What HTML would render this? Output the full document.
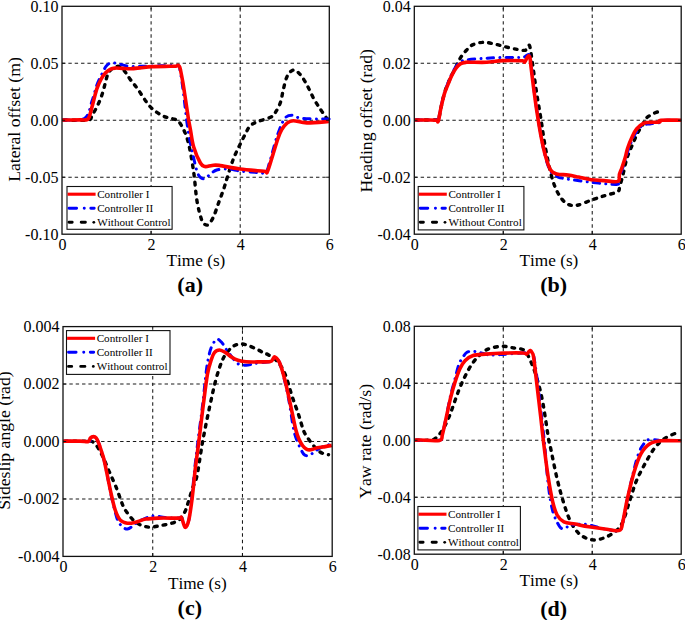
<!DOCTYPE html><html><head><meta charset="utf-8"><style>html,body{margin:0;padding:0;background:#fff;}svg{display:block;font-kerning:none;}text{font-kerning:none;}</style></head><body>
<svg width="685" height="620" viewBox="0 0 685 620">
<rect width="685" height="620" fill="#fff"/>
<g stroke="#1a1a1a" stroke-width="1.05" fill="none"><line x1="151.10" y1="234.20" x2="151.10" y2="6.30" stroke-dasharray="3.45 3.1"/><line x1="240.20" y1="234.20" x2="240.20" y2="6.30" stroke-dasharray="3.45 3.1"/><line x1="62.00" y1="63.27" x2="329.30" y2="63.27" stroke-dasharray="3.4 2.95"/><line x1="62.00" y1="120.25" x2="329.30" y2="120.25" stroke-dasharray="3.4 2.95"/><line x1="62.00" y1="177.22" x2="329.30" y2="177.22" stroke-dasharray="3.4 2.95"/></g>
<path d="M63.80,120.00 C67.83,120.00 83.28,120.78 88.00,120.00 C92.72,119.22 90.42,117.90 92.10,115.30 C93.78,112.70 96.38,108.03 98.10,104.40 C99.82,100.77 101.18,97.13 102.40,93.50 C103.62,89.87 104.50,85.82 105.40,82.60 C106.30,79.38 106.80,76.42 107.80,74.20 C108.80,71.98 109.98,70.58 111.40,69.30 C112.82,68.02 114.68,66.85 116.30,66.50 C117.92,66.15 119.50,66.12 121.10,67.20 C122.70,68.28 124.28,70.83 125.90,73.00 C127.52,75.17 128.83,77.53 130.80,80.20 C132.77,82.87 134.52,84.63 137.70,89.00 C140.88,93.37 145.82,101.97 149.90,106.40 C153.98,110.83 158.47,113.55 162.20,115.60 C165.93,117.65 169.45,117.60 172.30,118.70 C175.15,119.80 176.77,118.70 179.30,122.20 C181.83,125.70 185.15,131.73 187.50,139.70 C189.85,147.67 191.83,159.87 193.40,170.00 C194.97,180.13 195.55,192.25 196.90,200.50 C198.25,208.75 200.23,215.55 201.50,219.50 C202.77,223.45 203.33,223.37 204.50,224.20 C205.67,225.03 207.00,225.73 208.50,224.50 C210.00,223.27 211.80,220.45 213.50,216.80 C215.20,213.15 216.97,207.33 218.70,202.60 C220.43,197.87 222.50,192.50 223.90,188.40 C225.30,184.30 225.82,182.08 227.10,178.00 C228.38,173.92 230.18,167.95 231.60,163.90 C233.02,159.85 233.40,158.52 235.60,153.70 C237.80,148.88 242.40,139.60 244.80,135.00 C247.20,130.40 247.85,128.33 250.00,126.10 C252.15,123.87 254.28,123.07 257.70,121.60 C261.12,120.13 267.53,118.85 270.50,117.30 C273.47,115.75 273.83,114.80 275.50,112.30 C277.17,109.80 279.17,106.23 280.50,102.30 C281.83,98.37 282.35,93.12 283.50,88.70 C284.65,84.28 285.67,78.92 287.40,75.80 C289.13,72.68 291.63,70.05 293.90,70.00 C296.17,69.95 298.73,72.83 301.00,75.50 C303.27,78.17 305.35,82.08 307.50,86.00 C309.65,89.92 311.75,95.13 313.90,99.00 C316.05,102.87 318.33,106.07 320.40,109.20 C322.47,112.33 325.10,116.05 326.30,117.80 C327.50,119.55 327.38,119.38 327.60,119.70" fill="none" stroke="#000" stroke-width="3.40" stroke-dasharray="2.7 6.1" stroke-linecap="round" stroke-linejoin="round"/>
<path d="M63.80,120.00 C67.30,119.72 80.08,121.50 84.80,118.30 C89.52,115.10 90.08,106.35 92.10,100.80 C94.12,95.25 95.28,89.43 96.90,85.00 C98.52,80.57 100.28,77.32 101.80,74.20 C103.32,71.08 104.60,68.15 106.00,66.30 C107.40,64.45 108.68,63.63 110.20,63.10 C111.72,62.57 113.28,62.87 115.10,63.10 C116.92,63.33 118.88,63.97 121.10,64.50 C123.32,65.03 125.25,66.00 128.40,66.30 C131.55,66.60 136.07,66.35 140.00,66.30 C143.93,66.25 147.00,66.12 152.00,66.00 C157.00,65.88 166.00,65.68 170.00,65.60 C174.00,65.52 174.67,65.50 176.00,65.50 C177.33,65.50 177.42,65.27 178.00,65.60 C178.58,65.93 178.83,64.77 179.50,67.50 C180.17,70.23 181.20,76.58 182.00,82.00 C182.80,87.42 183.30,92.00 184.30,100.00 C185.30,108.00 186.55,120.83 188.00,130.00 C189.45,139.17 191.33,147.67 193.00,155.00 C194.67,162.33 196.18,170.03 198.00,174.00 C199.82,177.97 201.90,178.72 203.90,178.80 C205.90,178.88 207.87,175.97 210.00,174.50 C212.13,173.03 213.63,170.92 216.70,170.00 C219.77,169.08 224.52,168.83 228.40,169.00 C232.28,169.17 235.57,170.45 240.00,171.00 C244.43,171.55 250.75,172.05 255.00,172.30 C259.25,172.55 263.00,174.38 265.50,172.50 C268.00,170.62 268.00,167.25 270.00,161.00 C272.00,154.75 275.03,142.10 277.50,135.00 C279.97,127.90 282.28,121.70 284.80,118.40 C287.32,115.10 289.80,115.20 292.60,115.20 C295.40,115.20 295.80,117.77 301.60,118.40 C307.40,119.03 323.05,118.90 327.40,119.00 C331.75,119.10 327.65,119.00 327.70,119.00" fill="none" stroke="#00f" stroke-width="3.00" stroke-dasharray="6.4 6.2 0.01 6.2" stroke-linecap="round" stroke-linejoin="round"/>
<path d="M62.00,120.00 C65.00,119.98 75.78,119.98 80.00,119.90 C84.22,119.82 85.68,120.27 87.30,119.50 C88.92,118.73 88.70,118.22 89.70,115.30 C90.70,112.38 92.10,106.43 93.30,102.00 C94.50,97.57 95.58,92.53 96.90,88.70 C98.22,84.87 99.78,81.62 101.20,79.00 C102.62,76.38 103.90,74.62 105.40,73.00 C106.90,71.38 108.58,70.12 110.20,69.30 C111.82,68.48 113.08,68.25 115.10,68.10 C117.12,67.95 119.68,68.30 122.30,68.40 C124.92,68.50 127.85,68.78 130.80,68.70 C133.75,68.62 136.47,68.25 140.00,67.90 C143.53,67.55 147.00,66.87 152.00,66.60 C157.00,66.33 166.00,66.37 170.00,66.30 C174.00,66.23 174.67,66.38 176.00,66.20 C177.33,66.02 177.40,65.10 178.00,65.20 C178.60,65.30 179.17,65.92 179.60,66.80 C180.03,67.68 180.05,67.87 180.60,70.50 C181.15,73.13 182.17,78.35 182.90,82.60 C183.63,86.85 184.12,90.20 185.00,96.00 C185.88,101.80 187.30,111.82 188.20,117.40 C189.10,122.98 189.50,124.62 190.40,129.50 C191.30,134.38 191.93,141.12 193.60,146.70 C195.27,152.28 198.50,159.68 200.40,163.00 C202.30,166.32 203.07,166.18 205.00,166.60 C206.93,167.02 209.67,165.70 212.00,165.50 C214.33,165.30 214.33,164.82 219.00,165.40 C223.67,165.98 232.50,168.02 240.00,169.00 C247.50,169.98 259.45,170.83 264.00,171.30 C268.55,171.77 265.87,174.42 267.30,171.80 C268.73,169.18 270.85,161.10 272.60,155.60 C274.35,150.10 276.28,143.12 277.80,138.80 C279.32,134.48 280.20,132.28 281.70,129.70 C283.20,127.12 284.87,124.80 286.80,123.30 C288.73,121.80 289.97,120.77 293.30,120.70 C296.63,120.63 300.87,122.77 306.80,122.90 C312.73,123.03 325.22,121.73 328.90,121.50" fill="none" stroke="#f00" stroke-width="3.60" stroke-linecap="butt" stroke-linejoin="round"/>
<path d="M151.10,234.20v-3.20M151.10,6.30v3.20M240.20,234.20v-3.20M240.20,6.30v3.20M62.00,63.27h3.20M329.30,63.27h-3.20M62.00,120.25h3.20M329.30,120.25h-3.20M62.00,177.22h3.20M329.30,177.22h-3.20" stroke="#111" stroke-width="1" fill="none"/>
<rect x="62.00" y="6.30" width="267.30" height="227.90" fill="none" stroke="#111" stroke-width="1.3"/>
<rect x="67.00" y="186.50" width="105.10" height="42.80" fill="#fff" stroke="#111" stroke-width="1.1"/>
<line x1="67.60" y1="194.20" x2="95.60" y2="194.20" stroke="#f00" stroke-width="3.1"/>
<path d="M69.00,208.20H76.60 M84.20,208.20h0.1 M90.80,208.20H94.20" stroke="#00f" stroke-width="2.9" stroke-linecap="round"/>
<path d="M69.00,222.30H72.20 M81.20,222.30H85.40" stroke="#000" stroke-width="2.9" stroke-linecap="round"/>
<circle cx="93.80" cy="222.30" r="1.4" fill="#000"/>
<g font-family="'Liberation Serif', serif" font-size="11.15" fill="#000">
<text x="97.20" y="197.50">Controller I</text>
<text x="97.20" y="211.50">Controller II</text>
<text x="97.20" y="225.50">Without Control</text>
</g>
<g font-family="'Liberation Serif', serif" font-size="16.00" fill="#000">
<text transform="translate(58.40,11.60) scale(1,1.055)" text-anchor="end">0.10</text>
<text transform="translate(58.40,68.57) scale(1,1.055)" text-anchor="end">0.05</text>
<text transform="translate(58.40,125.55) scale(1,1.055)" text-anchor="end">0.00</text>
<text transform="translate(58.40,182.53) scale(1,1.055)" text-anchor="end">-0.05</text>
<text transform="translate(58.40,239.50) scale(1,1.055)" text-anchor="end">-0.10</text>
<text transform="translate(62.50,250.00) scale(1,1.055)" text-anchor="middle">0</text>
<text transform="translate(151.60,250.00) scale(1,1.055)" text-anchor="middle">2</text>
<text transform="translate(240.70,250.00) scale(1,1.055)" text-anchor="middle">4</text>
<text transform="translate(329.80,250.00) scale(1,1.055)" text-anchor="middle">6</text>
</g>
<text transform="translate(195.90,266.00) scale(0.985,1)" font-family="'Liberation Serif', serif" font-size="17.50" text-anchor="middle">Time (s)</text>
<text transform="translate(14.00,119.50) rotate(-90)" font-family="'Liberation Serif', serif" font-size="17.70" text-anchor="middle" dominant-baseline="central">Lateral offset (m)</text>
<text x="190.20" y="292.40" font-family="'Liberation Serif', serif" font-size="22.00" font-weight="bold" text-anchor="middle">(a)</text>
<g stroke="#1a1a1a" stroke-width="1.05" fill="none"><line x1="503.27" y1="234.20" x2="503.27" y2="6.30" stroke-dasharray="3.45 3.1"/><line x1="592.23" y1="234.20" x2="592.23" y2="6.30" stroke-dasharray="3.45 3.1"/><line x1="414.30" y1="63.27" x2="681.20" y2="63.27" stroke-dasharray="3.4 2.95"/><line x1="414.30" y1="120.25" x2="681.20" y2="120.25" stroke-dasharray="3.4 2.95"/><line x1="414.30" y1="177.22" x2="681.20" y2="177.22" stroke-dasharray="3.4 2.95"/></g>
<path d="M416.10,120.00 C419.42,120.00 432.25,120.17 436.00,120.00 C439.75,119.83 437.77,121.08 438.60,119.00 C439.43,116.92 440.02,111.83 441.00,107.50 C441.98,103.17 443.30,97.08 444.50,93.00 C445.70,88.92 446.98,86.00 448.20,83.00 C449.42,80.00 450.58,77.50 451.80,75.00 C453.02,72.50 454.47,70.12 455.50,68.00 C456.53,65.88 456.92,64.38 458.00,62.30 C459.08,60.22 460.55,57.55 462.00,55.50 C463.45,53.45 464.95,51.77 466.70,50.00 C468.45,48.23 469.78,46.18 472.50,44.90 C475.22,43.62 479.33,42.45 483.00,42.30 C486.67,42.15 490.70,43.23 494.50,44.00 C498.30,44.77 502.03,46.00 505.80,46.90 C509.57,47.80 513.87,48.83 517.10,49.40 C520.33,49.97 523.38,50.70 525.20,50.30 C527.02,49.90 527.28,47.80 528.00,47.00 C528.72,46.20 529.00,44.47 529.50,45.50 C530.00,46.53 530.27,48.52 531.00,53.20 C531.73,57.88 532.93,66.77 533.90,73.60 C534.87,80.43 535.62,86.57 536.80,94.20 C537.98,101.83 539.60,110.67 541.00,119.40 C542.40,128.13 543.45,137.17 545.20,146.60 C546.95,156.03 549.40,168.30 551.50,176.00 C553.60,183.70 555.35,188.25 557.80,192.80 C560.25,197.35 563.07,201.20 566.20,203.30 C569.33,205.40 572.42,205.93 576.60,205.40 C580.78,204.87 586.75,201.68 591.30,200.10 C595.85,198.52 599.53,197.30 603.90,195.90 C608.27,194.50 614.87,193.23 617.50,191.70 C620.13,190.17 618.77,189.62 619.70,186.70 C620.63,183.78 621.97,178.73 623.10,174.20 C624.23,169.67 625.37,163.45 626.50,159.50 C627.63,155.55 628.68,153.50 629.90,150.50 C631.12,147.50 632.48,144.52 633.80,141.50 C635.12,138.48 636.38,135.05 637.80,132.40 C639.22,129.75 641.02,127.83 642.30,125.60 C643.58,123.37 644.03,120.80 645.50,119.00 C646.97,117.20 648.95,116.00 651.10,114.80 C653.25,113.60 656.68,111.90 658.40,111.80 C660.12,111.70 660.90,113.80 661.40,114.20" fill="none" stroke="#000" stroke-width="3.40" stroke-dasharray="2.7 6.1" stroke-linecap="round" stroke-linejoin="round"/>
<path d="M416.10,120.00 C419.42,120.00 432.25,120.17 436.00,120.00 C439.75,119.83 437.77,121.17 438.60,119.00 C439.43,116.83 440.02,111.42 441.00,107.00 C441.98,102.58 443.30,96.58 444.50,92.50 C445.70,88.42 446.98,85.58 448.20,82.50 C449.42,79.42 450.50,76.67 451.80,74.00 C453.10,71.33 454.58,68.50 456.00,66.50 C457.42,64.50 458.45,63.12 460.30,62.00 C462.15,60.88 462.73,60.43 467.10,59.80 C471.47,59.17 479.78,58.60 486.50,58.20 C493.22,57.80 501.92,57.50 507.40,57.40 C512.88,57.30 516.60,57.65 519.40,57.60 C522.20,57.55 522.60,57.58 524.20,57.10 C525.80,56.62 527.87,53.55 529.00,54.70 C530.13,55.85 530.33,59.45 531.00,64.00 C531.67,68.55 532.03,74.33 533.00,82.00 C533.97,89.67 535.47,101.00 536.80,110.00 C538.13,119.00 539.60,128.33 541.00,136.00 C542.40,143.67 543.63,150.17 545.20,156.00 C546.77,161.83 548.48,167.67 550.40,171.00 C552.32,174.33 554.77,174.82 556.70,176.00 C558.63,177.18 556.23,177.05 562.00,178.10 C567.77,179.15 582.22,181.25 591.30,182.30 C600.38,183.35 611.88,184.62 616.50,184.40 C621.12,184.18 618.25,182.90 619.00,181.00 C619.75,179.10 620.33,175.33 621.00,173.00 C621.67,170.67 622.17,169.58 623.00,167.00 C623.83,164.42 625.08,160.50 626.00,157.50 C626.92,154.50 627.33,152.25 628.50,149.00 C629.67,145.75 631.50,141.08 633.00,138.00 C634.50,134.92 635.83,132.67 637.50,130.50 C639.17,128.33 640.93,126.10 643.00,125.00 C645.07,123.90 647.13,124.30 649.90,123.90 C652.67,123.50 657.58,123.17 659.60,122.60 C661.62,122.03 658.67,120.85 662.00,120.50 C665.33,120.15 676.67,120.50 679.60,120.50" fill="none" stroke="#00f" stroke-width="3.00" stroke-dasharray="6.4 6.2 0.01 6.2" stroke-linecap="round" stroke-linejoin="round"/>
<path d="M414.30,120.00 C416.92,120.00 426.30,119.95 430.00,120.00 C433.70,120.05 435.12,120.12 436.50,120.30 C437.88,120.48 437.57,123.13 438.30,121.10 C439.03,119.07 439.87,112.68 440.90,108.10 C441.93,103.52 443.28,97.63 444.50,93.60 C445.72,89.57 446.98,86.93 448.20,83.90 C449.42,80.87 450.50,78.02 451.80,75.40 C453.10,72.78 454.58,70.12 456.00,68.20 C457.42,66.28 458.58,64.88 460.30,63.90 C462.02,62.92 464.63,62.58 466.30,62.30 C467.97,62.02 466.93,62.20 470.30,62.20 C473.67,62.20 481.12,62.57 486.50,62.30 C491.88,62.03 496.63,60.85 502.60,60.60 C508.57,60.35 518.62,60.57 522.30,60.80 C525.98,61.03 523.73,62.78 524.70,62.00 C525.67,61.22 527.22,56.77 528.10,56.10 C528.98,55.43 529.52,56.22 530.00,58.00 C530.48,59.78 530.52,62.75 531.00,66.80 C531.48,70.85 532.42,78.43 532.90,82.30 C533.38,86.17 533.25,85.22 533.90,90.00 C534.55,94.78 535.62,103.30 536.80,111.00 C537.98,118.70 539.60,128.87 541.00,136.20 C542.40,143.53 543.63,149.42 545.20,155.00 C546.77,160.58 548.48,166.55 550.40,169.70 C552.32,172.85 553.73,173.02 556.70,173.90 C559.67,174.78 564.53,174.47 568.20,175.00 C571.87,175.53 574.85,176.30 578.70,177.10 C582.55,177.90 587.10,179.22 591.30,179.80 C595.50,180.38 599.48,180.33 603.90,180.60 C608.32,180.87 615.20,182.50 617.80,181.40 C620.40,180.30 618.80,176.32 619.50,174.00 C620.20,171.68 621.03,170.28 622.00,167.50 C622.97,164.72 624.37,160.52 625.30,157.30 C626.23,154.08 626.47,151.58 627.60,148.20 C628.73,144.82 630.60,140.20 632.10,137.00 C633.60,133.80 634.72,131.27 636.60,129.00 C638.48,126.73 641.18,124.50 643.40,123.40 C645.62,122.30 647.20,122.63 649.90,122.40 C652.60,122.17 657.78,122.37 659.60,122.00 C661.42,121.63 657.20,120.50 660.80,120.20 C664.40,119.90 677.80,120.20 681.20,120.20" fill="none" stroke="#f00" stroke-width="3.60" stroke-linecap="butt" stroke-linejoin="round"/>
<path d="M503.27,234.20v-3.20M503.27,6.30v3.20M592.23,234.20v-3.20M592.23,6.30v3.20M414.30,63.27h3.20M681.20,63.27h-3.20M414.30,120.25h3.20M681.20,120.25h-3.20M414.30,177.22h3.20M681.20,177.22h-3.20" stroke="#111" stroke-width="1" fill="none"/>
<rect x="414.30" y="6.30" width="266.90" height="227.90" fill="none" stroke="#111" stroke-width="1.3"/>
<rect x="418.20" y="186.50" width="105.70" height="43.40" fill="#fff" stroke="#111" stroke-width="1.1"/>
<line x1="418.80" y1="194.20" x2="446.80" y2="194.20" stroke="#f00" stroke-width="3.1"/>
<path d="M420.20,208.20H427.80 M435.40,208.20h0.1 M442.00,208.20H445.40" stroke="#00f" stroke-width="2.9" stroke-linecap="round"/>
<path d="M420.20,222.30H423.40 M432.40,222.30H436.60" stroke="#000" stroke-width="2.9" stroke-linecap="round"/>
<circle cx="445.00" cy="222.30" r="1.4" fill="#000"/>
<g font-family="'Liberation Serif', serif" font-size="11.15" fill="#000">
<text x="448.40" y="197.50">Controller I</text>
<text x="448.40" y="211.50">Controller II</text>
<text x="448.40" y="225.50">Without Control</text>
</g>
<g font-family="'Liberation Serif', serif" font-size="16.00" fill="#000">
<text transform="translate(410.70,11.60) scale(1,1.055)" text-anchor="end">0.04</text>
<text transform="translate(410.70,68.57) scale(1,1.055)" text-anchor="end">0.02</text>
<text transform="translate(410.70,125.55) scale(1,1.055)" text-anchor="end">0.00</text>
<text transform="translate(410.70,182.53) scale(1,1.055)" text-anchor="end">-0.02</text>
<text transform="translate(410.70,239.50) scale(1,1.055)" text-anchor="end">-0.04</text>
<text transform="translate(414.80,250.00) scale(1,1.055)" text-anchor="middle">0</text>
<text transform="translate(503.77,250.00) scale(1,1.055)" text-anchor="middle">2</text>
<text transform="translate(592.73,250.00) scale(1,1.055)" text-anchor="middle">4</text>
<text transform="translate(681.70,250.00) scale(1,1.055)" text-anchor="middle">6</text>
</g>
<text transform="translate(548.90,266.30) scale(0.985,1)" font-family="'Liberation Serif', serif" font-size="17.50" text-anchor="middle">Time (s)</text>
<text transform="translate(365.50,120.70) rotate(-90)" font-family="'Liberation Serif', serif" font-size="17.70" text-anchor="middle" dominant-baseline="central">Heading offset (rad)</text>
<text x="553.60" y="292.20" font-family="'Liberation Serif', serif" font-size="22.00" font-weight="bold" text-anchor="middle">(b)</text>
<g stroke="#1a1a1a" stroke-width="1.05" fill="none"><line x1="152.73" y1="556.40" x2="152.73" y2="326.60" stroke-dasharray="3.45 3.1"/><line x1="242.47" y1="556.40" x2="242.47" y2="326.60" stroke-dasharray="3.45 3.1"/><line x1="63.00" y1="384.05" x2="332.20" y2="384.05" stroke-dasharray="3.4 2.95"/><line x1="63.00" y1="441.50" x2="332.20" y2="441.50" stroke-dasharray="3.4 2.95"/><line x1="63.00" y1="498.95" x2="332.20" y2="498.95" stroke-dasharray="3.4 2.95"/></g>
<path d="M64.80,441.20 C68.73,441.20 84.08,441.23 88.40,441.20 C92.72,441.17 89.47,440.45 90.70,441.00 C91.93,441.55 93.77,441.87 95.80,444.50 C97.83,447.13 100.70,452.37 102.90,456.80 C105.10,461.23 106.78,466.00 109.00,471.10 C111.22,476.20 113.88,481.67 116.20,487.40 C118.52,493.13 121.02,501.20 122.90,505.50 C124.78,509.80 125.75,510.75 127.50,513.20 C129.25,515.65 131.25,518.25 133.40,520.20 C135.55,522.15 137.68,523.73 140.40,524.90 C143.12,526.07 146.40,527.08 149.70,527.20 C153.00,527.32 156.50,526.27 160.20,525.60 C163.90,524.93 168.60,524.27 171.90,523.20 C175.20,522.13 177.85,521.07 180.00,519.20 C182.15,517.33 183.47,514.70 184.80,512.00 C186.13,509.30 186.67,507.10 188.00,503.00 C189.33,498.90 191.30,491.95 192.80,487.40 C194.30,482.85 195.37,483.30 197.00,475.70 C198.63,468.10 200.53,453.10 202.60,441.80 C204.67,430.50 207.13,418.45 209.40,407.90 C211.67,397.35 214.00,386.53 216.20,378.50 C218.40,370.47 220.52,364.37 222.60,359.70 C224.68,355.03 226.83,352.80 228.70,350.50 C230.57,348.20 231.75,347.00 233.80,345.90 C235.85,344.80 238.45,343.90 241.00,343.90 C243.55,343.90 246.22,344.88 249.10,345.90 C251.98,346.92 255.65,348.72 258.30,350.00 C260.95,351.28 263.35,352.82 265.00,353.60 C266.65,354.38 266.15,353.38 268.20,354.70 C270.25,356.02 274.50,358.30 277.30,361.50 C280.10,364.70 282.52,368.05 285.00,373.90 C287.48,379.75 289.93,389.80 292.20,396.60 C294.47,403.40 296.72,409.05 298.60,414.70 C300.48,420.35 302.00,426.67 303.50,430.50 C305.00,434.33 306.12,435.42 307.60,437.70 C309.08,439.98 310.78,442.18 312.40,444.20 C314.02,446.22 315.68,448.32 317.30,449.80 C318.92,451.28 320.23,452.28 322.10,453.10 C323.97,453.92 327.43,454.43 328.50,454.70" fill="none" stroke="#000" stroke-width="3.40" stroke-dasharray="2.7 6.1" stroke-linecap="round" stroke-linejoin="round"/>
<path d="M64.80,441.20 C68.73,441.22 84.15,441.83 88.40,441.30 C92.65,440.77 89.45,438.78 90.30,438.00 C91.15,437.22 92.53,436.62 93.50,436.60 C94.47,436.58 95.23,436.82 96.10,437.90 C96.97,438.98 97.83,440.95 98.70,443.10 C99.57,445.25 100.42,447.98 101.30,450.80 C102.18,453.62 103.13,456.63 104.00,460.00 C104.87,463.37 105.32,465.17 106.50,471.00 C107.68,476.83 109.65,488.17 111.10,495.00 C112.55,501.83 114.02,507.60 115.20,512.00 C116.38,516.40 116.92,518.87 118.20,521.40 C119.48,523.93 121.35,525.93 122.90,527.20 C124.45,528.47 125.85,529.20 127.50,529.00 C129.15,528.80 131.22,527.08 132.80,526.00 C134.38,524.92 134.83,523.82 137.00,522.50 C139.17,521.18 142.97,519.18 145.80,518.10 C148.63,517.02 150.80,516.10 154.00,516.00 C157.20,515.90 160.92,517.15 165.00,517.50 C169.08,517.85 175.73,518.07 178.50,518.10 C181.27,518.13 180.50,516.38 181.60,517.70 C182.70,519.02 183.90,525.60 185.10,526.00 C186.30,526.40 187.68,524.82 188.80,520.10 C189.92,515.38 190.78,506.55 191.80,497.70 C192.82,488.85 193.85,476.62 194.90,467.00 C195.95,457.38 196.82,450.33 198.10,440.00 C199.38,429.67 201.25,416.33 202.60,405.00 C203.95,393.67 205.25,379.72 206.20,372.00 C207.15,364.28 207.45,362.78 208.30,358.70 C209.15,354.62 209.93,350.73 211.30,347.50 C212.67,344.27 214.78,340.17 216.50,339.30 C218.22,338.43 220.08,340.77 221.60,342.30 C223.12,343.83 224.07,346.28 225.60,348.50 C227.13,350.72 229.08,353.38 230.80,355.60 C232.52,357.82 234.38,360.27 235.90,361.80 C237.42,363.33 238.20,364.22 239.90,364.80 C241.60,365.38 244.05,365.38 246.10,365.30 C248.15,365.22 250.17,364.72 252.20,364.30 C254.23,363.88 255.25,363.27 258.30,362.80 C261.35,362.33 267.72,362.38 270.50,361.50 C273.28,360.62 273.50,357.32 275.00,357.50 C276.50,357.68 277.98,359.10 279.50,362.60 C281.02,366.10 282.58,372.47 284.10,378.50 C285.62,384.53 286.97,390.13 288.60,398.80 C290.23,407.47 292.35,423.20 293.90,430.50 C295.45,437.80 296.70,439.38 297.90,442.60 C299.10,445.82 300.02,447.78 301.10,449.80 C302.18,451.82 303.05,453.75 304.40,454.70 C305.75,455.65 307.47,456.03 309.20,455.50 C310.93,454.97 312.78,452.85 314.80,451.50 C316.82,450.15 318.67,448.62 321.30,447.40 C323.93,446.18 329.05,444.73 330.60,444.20" fill="none" stroke="#00f" stroke-width="3.00" stroke-dasharray="6.4 6.2 0.01 6.2" stroke-linecap="round" stroke-linejoin="round"/>
<path d="M63.00,441.20 C65.83,441.18 75.77,441.05 80.00,441.10 C84.23,441.15 86.68,442.02 88.40,441.50 C90.12,440.98 89.45,438.82 90.30,438.00 C91.15,437.18 92.53,436.62 93.50,436.60 C94.47,436.58 95.23,436.82 96.10,437.90 C96.97,438.98 97.83,440.95 98.70,443.10 C99.57,445.25 100.43,448.12 101.30,450.80 C102.17,453.48 103.12,456.17 103.90,459.20 C104.68,462.23 104.80,463.27 106.00,469.00 C107.20,474.73 109.57,486.77 111.10,493.60 C112.63,500.43 113.67,505.58 115.20,510.00 C116.73,514.42 118.27,517.90 120.30,520.10 C122.33,522.30 124.85,522.85 127.40,523.20 C129.95,523.55 132.53,522.88 135.60,522.20 C138.67,521.52 142.05,519.78 145.80,519.10 C149.55,518.42 152.65,518.27 158.10,518.10 C163.55,517.93 174.58,518.17 178.50,518.10 C182.42,518.03 180.50,516.17 181.60,517.70 C182.70,519.23 183.90,526.90 185.10,527.30 C186.30,527.70 187.62,525.03 188.80,520.10 C189.98,515.17 191.08,506.55 192.20,497.70 C193.32,488.85 194.40,476.32 195.50,467.00 C196.60,457.68 197.52,452.03 198.80,441.80 C200.08,431.57 201.75,416.92 203.20,405.60 C204.65,394.28 206.15,381.55 207.50,373.90 C208.85,366.25 210.15,363.25 211.30,359.70 C212.45,356.15 213.03,354.22 214.40,352.60 C215.77,350.98 217.63,350.00 219.50,350.00 C221.37,350.00 223.55,351.40 225.60,352.60 C227.65,353.80 229.75,355.93 231.80,357.20 C233.85,358.47 235.52,359.43 237.90,360.20 C240.28,360.97 242.55,361.52 246.10,361.80 C249.65,362.08 255.13,361.95 259.20,361.90 C263.27,361.85 268.23,361.95 270.50,361.50 C272.77,361.05 272.05,359.95 272.80,359.20 C273.55,358.45 273.88,356.43 275.00,357.00 C276.12,357.57 277.92,359.02 279.50,362.60 C281.08,366.18 282.88,372.47 284.50,378.50 C286.12,384.53 287.70,392.02 289.20,398.80 C290.70,405.58 292.40,414.05 293.50,419.20 C294.60,424.35 294.93,426.48 295.80,429.70 C296.67,432.92 297.55,435.82 298.70,438.50 C299.85,441.18 301.35,443.98 302.70,445.80 C304.05,447.62 305.45,448.73 306.80,449.40 C308.15,450.07 309.05,450.07 310.80,449.80 C312.55,449.53 314.88,448.33 317.30,447.80 C319.72,447.27 322.88,447.00 325.30,446.60 C327.72,446.20 330.72,445.60 331.80,445.40" fill="none" stroke="#f00" stroke-width="3.60" stroke-linecap="butt" stroke-linejoin="round"/>
<path d="M152.73,556.40v-3.20M152.73,326.60v3.20M242.47,556.40v-3.20M242.47,326.60v3.20M63.00,384.05h3.20M332.20,384.05h-3.20M63.00,441.50h3.20M332.20,441.50h-3.20M63.00,498.95h3.20M332.20,498.95h-3.20" stroke="#111" stroke-width="1" fill="none"/>
<rect x="63.00" y="326.60" width="269.20" height="229.80" fill="none" stroke="#111" stroke-width="1.3"/>
<rect x="66.50" y="330.60" width="103.50" height="43.80" fill="#fff" stroke="#111" stroke-width="1.1"/>
<line x1="67.10" y1="338.30" x2="95.10" y2="338.30" stroke="#f00" stroke-width="3.1"/>
<path d="M68.50,352.30H76.10 M83.70,352.30h0.1 M90.30,352.30H93.70" stroke="#00f" stroke-width="2.9" stroke-linecap="round"/>
<path d="M68.50,366.40H71.70 M80.70,366.40H84.90" stroke="#000" stroke-width="2.9" stroke-linecap="round"/>
<circle cx="93.30" cy="366.40" r="1.4" fill="#000"/>
<g font-family="'Liberation Serif', serif" font-size="11.15" fill="#000">
<text x="96.70" y="341.60">Controller I</text>
<text x="96.70" y="355.60">Controller II</text>
<text x="96.70" y="369.60">Without control</text>
</g>
<g font-family="'Liberation Serif', serif" font-size="16.00" fill="#000">
<text transform="translate(59.40,331.90) scale(1,1.055)" text-anchor="end">0.004</text>
<text transform="translate(59.40,389.35) scale(1,1.055)" text-anchor="end">0.002</text>
<text transform="translate(59.40,446.80) scale(1,1.055)" text-anchor="end">0.000</text>
<text transform="translate(59.40,504.25) scale(1,1.055)" text-anchor="end">-0.002</text>
<text transform="translate(59.40,561.70) scale(1,1.055)" text-anchor="end">-0.004</text>
<text transform="translate(63.50,572.20) scale(1,1.055)" text-anchor="middle">0</text>
<text transform="translate(153.23,572.20) scale(1,1.055)" text-anchor="middle">2</text>
<text transform="translate(242.97,572.20) scale(1,1.055)" text-anchor="middle">4</text>
<text transform="translate(332.70,572.20) scale(1,1.055)" text-anchor="middle">6</text>
</g>
<text transform="translate(197.30,588.70) scale(0.985,1)" font-family="'Liberation Serif', serif" font-size="17.50" text-anchor="middle">Time (s)</text>
<text transform="translate(4.00,440.60) rotate(-90)" font-family="'Liberation Serif', serif" font-size="17.70" text-anchor="middle" dominant-baseline="central">Sideslip angle (rad)</text>
<text x="189.80" y="615.30" font-family="'Liberation Serif', serif" font-size="22.00" font-weight="bold" text-anchor="middle">(c)</text>
<g stroke="#1a1a1a" stroke-width="1.05" fill="none"><line x1="503.27" y1="554.20" x2="503.27" y2="326.30" stroke-dasharray="3.45 3.1"/><line x1="592.23" y1="554.20" x2="592.23" y2="326.30" stroke-dasharray="3.45 3.1"/><line x1="414.30" y1="383.28" x2="681.20" y2="383.28" stroke-dasharray="3.4 2.95"/><line x1="414.30" y1="440.25" x2="681.20" y2="440.25" stroke-dasharray="3.4 2.95"/><line x1="414.30" y1="497.23" x2="681.20" y2="497.23" stroke-dasharray="3.4 2.95"/></g>
<path d="M416.10,440.20 C418.33,440.20 426.25,440.53 429.50,440.20 C432.75,439.87 433.43,439.88 435.60,438.20 C437.77,436.52 440.18,433.83 442.50,430.10 C444.82,426.37 447.35,420.90 449.50,415.80 C451.65,410.70 453.50,404.60 455.40,399.50 C457.30,394.40 458.63,390.32 460.90,385.20 C463.17,380.08 466.28,373.40 469.00,368.80 C471.72,364.20 474.13,360.83 477.20,357.60 C480.27,354.37 483.32,351.28 487.40,349.40 C491.48,347.52 497.27,346.53 501.70,346.30 C506.13,346.07 510.25,347.32 514.00,348.00 C517.75,348.68 521.47,348.28 524.20,350.40 C526.93,352.52 528.35,356.27 530.40,360.70 C532.45,365.13 534.47,370.20 536.50,377.00 C538.53,383.80 540.55,390.93 542.60,401.50 C544.65,412.07 547.50,432.80 548.80,440.40 C550.10,448.00 549.02,440.70 550.40,447.10 C551.78,453.50 554.85,469.37 557.10,478.80 C559.35,488.23 561.63,496.53 563.90,503.70 C566.17,510.87 568.05,516.70 570.70,521.80 C573.35,526.90 576.22,531.28 579.80,534.30 C583.38,537.32 588.05,539.35 592.20,539.90 C596.35,540.45 600.73,539.10 604.70,537.60 C608.67,536.10 612.98,533.53 616.00,530.90 C619.02,528.27 620.55,526.72 622.80,521.80 C625.05,516.88 627.25,508.18 629.50,501.40 C631.75,494.62 633.65,487.50 636.30,481.10 C638.95,474.70 642.38,468.47 645.40,463.00 C648.42,457.53 651.38,452.27 654.40,448.30 C657.42,444.33 660.28,441.58 663.50,439.20 C666.72,436.82 671.62,434.87 673.70,434.00 C675.78,433.13 675.62,434.00 676.00,434.00" fill="none" stroke="#000" stroke-width="3.40" stroke-dasharray="2.7 6.1" stroke-linecap="round" stroke-linejoin="round"/>
<path d="M416.10,440.20 C419.98,440.20 435.00,441.23 439.40,440.20 C443.80,439.17 441.30,438.20 442.50,434.00 C443.70,429.80 445.23,421.50 446.60,415.00 C447.97,408.50 449.35,400.83 450.70,395.00 C452.05,389.17 453.35,385.05 454.70,380.00 C456.05,374.95 457.42,368.53 458.80,364.70 C460.18,360.87 461.63,359.07 463.00,357.00 C464.37,354.93 465.33,353.25 467.00,352.30 C468.67,351.35 471.00,351.30 473.00,351.30 C475.00,351.30 476.93,351.80 479.00,352.30 C481.07,352.80 483.32,353.83 485.40,354.30 C487.48,354.77 489.07,355.05 491.50,355.10 C493.93,355.15 496.92,354.82 500.00,354.60 C503.08,354.38 505.62,354.13 510.00,353.80 C514.38,353.47 522.90,352.98 526.30,352.60 C529.70,352.22 529.22,351.10 530.40,351.50 C531.58,351.90 532.30,350.58 533.40,355.00 C534.50,359.42 535.73,368.50 537.00,378.00 C538.27,387.50 539.75,401.17 541.00,412.00 C542.25,422.83 543.32,431.12 544.50,443.00 C545.68,454.88 546.75,472.05 548.10,483.30 C549.45,494.55 550.72,503.33 552.60,510.50 C554.48,517.67 557.52,523.28 559.40,526.30 C561.28,529.32 562.30,528.65 563.90,528.60 C565.50,528.55 567.12,526.68 569.00,526.00 C570.88,525.32 572.27,524.75 575.20,524.50 C578.13,524.25 581.68,523.75 586.60,524.50 C591.52,525.25 599.23,528.02 604.70,529.00 C610.17,529.98 616.38,531.60 619.40,530.40 C622.42,529.20 621.48,527.00 622.80,521.80 C624.12,516.60 625.77,506.50 627.30,499.20 C628.83,491.90 630.50,484.42 632.00,478.00 C633.50,471.58 634.97,465.37 636.30,460.70 C637.63,456.03 638.87,452.63 640.00,450.00 C641.13,447.37 641.83,446.58 643.10,444.90 C644.37,443.22 645.33,440.73 647.60,439.90 C649.87,439.07 654.43,439.80 656.70,439.90 C658.97,440.00 657.38,440.40 661.20,440.50 C665.02,440.60 676.53,440.50 679.60,440.50" fill="none" stroke="#00f" stroke-width="3.00" stroke-dasharray="6.4 6.2 0.01 6.2" stroke-linecap="round" stroke-linejoin="round"/>
<path d="M414.30,440.20 C415.25,440.17 415.82,439.97 420.00,440.00 C424.18,440.03 435.65,441.37 439.40,440.40 C443.15,439.43 441.30,438.30 442.50,434.20 C443.70,430.10 445.23,421.93 446.60,415.80 C447.97,409.67 449.35,402.85 450.70,397.40 C452.05,391.95 453.17,387.87 454.70,383.10 C456.23,378.33 458.18,372.53 459.90,368.80 C461.62,365.07 462.80,362.92 465.00,360.70 C467.20,358.48 469.70,356.60 473.10,355.50 C476.50,354.40 480.28,354.50 485.40,354.10 C490.52,353.70 497.53,353.28 503.80,353.10 C510.07,352.92 519.20,352.83 523.00,353.00 C526.80,353.17 525.62,354.33 526.60,354.10 C527.58,353.87 528.27,352.18 528.90,351.60 C529.53,351.02 529.88,350.45 530.40,350.60 C530.92,350.75 531.47,351.43 532.00,352.50 C532.53,353.57 532.85,352.23 533.60,357.00 C534.35,361.77 535.33,371.30 536.50,381.10 C537.67,390.90 539.42,405.55 540.60,415.80 C541.78,426.05 542.35,432.47 543.60,442.60 C544.85,452.73 546.60,466.80 548.10,476.60 C549.60,486.40 551.10,495.00 552.60,501.40 C554.10,507.80 555.22,511.60 557.10,515.00 C558.98,518.40 560.88,520.28 563.90,521.80 C566.92,523.32 571.05,523.27 575.20,524.10 C579.35,524.93 583.88,525.98 588.80,526.80 C593.72,527.62 599.60,528.40 604.70,529.00 C609.80,529.60 616.38,531.60 619.40,530.40 C622.42,529.20 621.48,527.00 622.80,521.80 C624.12,516.60 625.42,507.50 627.30,499.20 C629.18,490.90 631.83,479.55 634.10,472.00 C636.37,464.45 638.27,458.60 640.90,453.90 C643.53,449.20 646.52,445.98 649.90,443.80 C653.28,441.62 655.98,441.30 661.20,440.80 C666.42,440.30 677.87,440.80 681.20,440.80" fill="none" stroke="#f00" stroke-width="3.60" stroke-linecap="butt" stroke-linejoin="round"/>
<path d="M503.27,554.20v-3.20M503.27,326.30v3.20M592.23,554.20v-3.20M592.23,326.30v3.20M414.30,383.28h3.20M681.20,383.28h-3.20M414.30,440.25h3.20M681.20,440.25h-3.20M414.30,497.23h3.20M681.20,497.23h-3.20" stroke="#111" stroke-width="1" fill="none"/>
<rect x="414.30" y="326.30" width="266.90" height="227.90" fill="none" stroke="#111" stroke-width="1.3"/>
<rect x="417.90" y="506.50" width="102.50" height="43.40" fill="#fff" stroke="#111" stroke-width="1.1"/>
<line x1="418.50" y1="514.20" x2="446.50" y2="514.20" stroke="#f00" stroke-width="3.1"/>
<path d="M419.90,528.20H427.50 M435.10,528.20h0.1 M441.70,528.20H445.10" stroke="#00f" stroke-width="2.9" stroke-linecap="round"/>
<path d="M419.90,542.30H423.10 M432.10,542.30H436.30" stroke="#000" stroke-width="2.9" stroke-linecap="round"/>
<circle cx="444.70" cy="542.30" r="1.4" fill="#000"/>
<g font-family="'Liberation Serif', serif" font-size="11.15" fill="#000">
<text x="448.10" y="517.50">Controller I</text>
<text x="448.10" y="531.50">Controller II</text>
<text x="448.10" y="545.50">Without control</text>
</g>
<g font-family="'Liberation Serif', serif" font-size="16.00" fill="#000">
<text transform="translate(410.70,331.60) scale(1,1.055)" text-anchor="end">0.08</text>
<text transform="translate(410.70,388.58) scale(1,1.055)" text-anchor="end">0.04</text>
<text transform="translate(410.70,445.55) scale(1,1.055)" text-anchor="end">0.00</text>
<text transform="translate(410.70,502.53) scale(1,1.055)" text-anchor="end">-0.04</text>
<text transform="translate(410.70,559.50) scale(1,1.055)" text-anchor="end">-0.08</text>
<text transform="translate(414.80,570.00) scale(1,1.055)" text-anchor="middle">0</text>
<text transform="translate(503.77,570.00) scale(1,1.055)" text-anchor="middle">2</text>
<text transform="translate(592.73,570.00) scale(1,1.055)" text-anchor="middle">4</text>
<text transform="translate(681.70,570.00) scale(1,1.055)" text-anchor="middle">6</text>
</g>
<text transform="translate(548.90,585.80) scale(0.985,1)" font-family="'Liberation Serif', serif" font-size="17.50" text-anchor="middle">Time (s)</text>
<text transform="translate(365.00,441.40) rotate(-90)" font-family="'Liberation Serif', serif" font-size="17.70" text-anchor="middle" dominant-baseline="central">Yaw rate (rad/s)</text>
<text x="553.60" y="615.50" font-family="'Liberation Serif', serif" font-size="22.00" font-weight="bold" text-anchor="middle">(d)</text>
</svg></body></html>
